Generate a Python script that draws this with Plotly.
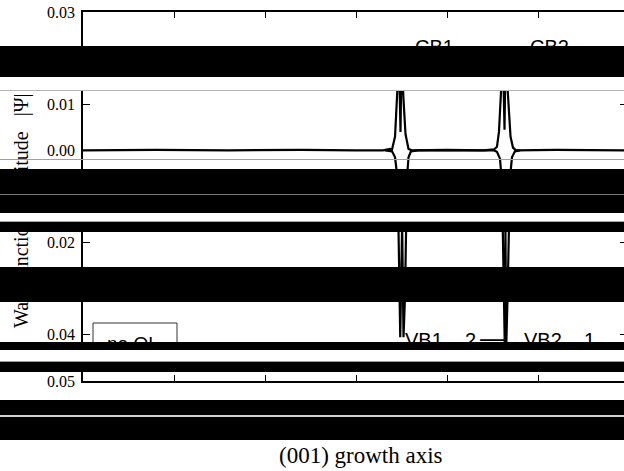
import plotly.graph_objects as go

# --- data -------------------------------------------------------------
# conduction-band wavefunctions (baseline plus the two peaks), position in nm
cb_x = [0, 8, 16, 24, 30, 32.97, 33.74, 33.96, 34.29, 34.51, 34.73, 34.89,
        35.00, 35.22, 35.44, 35.77, 36.15, 40, 44, 45.16, 45.49, 45.71, 45.93,
        46.15, 46.32, 46.43, 46.70, 46.98, 47.25, 47.58, 52, 56, 59.45]
cb_y = [0, 0.0001, 0, 0.0001, 0, 0, 0.0003, 0.0002, 0.0030, 0.0110, 0.0205,
        0.0040, 0.0205, 0.0110, 0.0035, 0.0003, 0, 0.0001, 0, 0.0002, 0.0008,
        0.0040, 0.0120, 0.0210, 0.0045, 0.0210, 0.0120, 0.0030, 0.0006, 0,
        0.0001, 0, 0]

# valence-band wavefunctions (drawn downwards)
vb_x = [33.19, 33.96, 34.29, 34.56, 34.67, 34.76, 34.86, 35.07, 35.22, 35.38,
        35.47, 35.60, 35.77, 36.04, 36.81, 45.16, 45.49, 45.82, 46.04, 46.15,
        46.24, 46.35, 46.42, 46.51, 46.65, 46.76, 46.92, 47.14, 47.47, 48.02]
vb_y = [0, -0.0002, -0.0015, -0.0060, -0.0170, -0.0330, -0.0405, -0.0160,
        -0.0405, -0.0320, -0.0180, -0.0060, -0.0015, -0.0002, 0, 0, -0.0003,
        -0.0018, -0.0070, -0.0180, -0.0330, -0.0425, -0.0165, -0.0425, -0.0320,
        -0.0180, -0.0060, -0.0015, -0.0002, 0]

y_tick_vals = [-0.05, -0.04, -0.03, -0.02, -0.01, 0.0, 0.01, 0.02, 0.03]
y_tick_text = ["0.05", "0.04", "0.03", "0.02", "0.01", "0.00", "0.01", "0.02", "0.03"]
x_tick_vals = [10, 20, 30, 40, 50]

cb_labels = ["CB1", "CB2"]
cb_label_x = [38.63, 51.26]
vb_labels = ["VB1&nbsp;&nbsp;&nbsp;&nbsp;2", "VB2&nbsp;&nbsp;&nbsp;&nbsp;1"]
vb_label_x = [35.16, 48.20]
label_y_top = 0.02233
label_y_bottom = -0.04119
legend_text = "no QL"

x_title = "(001) growth axis"
y_title = "Wavefunction amplitude&nbsp;&nbsp;&nbsp;|Ψ|"

# --- figure geometry ---------------------------------------------------
W, H = 624, 471
ML, MR, MT, MB = 83, 0, 12, 90
PW, PH = W - ML - MR, H - MT - MB


def px_x(p):
    return (p - ML) / PW


def px_y(p):
    return (H - MB - p) / PH


SERIF = "Liberation Serif"
SANS = "Liberation Sans"

fig = go.Figure()
fig.add_trace(go.Scatter(x=cb_x, y=cb_y, mode="lines",
                         line=dict(color="black", width=2.2), showlegend=False))
fig.add_trace(go.Scatter(x=vb_x, y=vb_y, mode="lines", yaxis="y2",
                         line=dict(color="black", width=2.2), showlegend=False))

annotations = []
annotations.append(dict(text=y_title, textangle=-90, xref="paper", yref="paper",
                        x=px_x(22), y=px_y(211), xanchor="center", yanchor="middle",
                        showarrow=False, font=dict(family=SERIF, size=20, color="black")))
annotations.append(dict(text=x_title, xref="paper", yref="paper",
                        x=px_x(361), y=px_y(456), xanchor="center", yanchor="middle",
                        showarrow=False, font=dict(family=SERIF, size=23, color="black")))
for t, xv in zip(cb_labels, cb_label_x):
    annotations.append(dict(text=t, x=xv, y=label_y_top, xref="x", yref="y",
                            xanchor="center", yanchor="middle", showarrow=False,
                            font=dict(family=SANS, size=20, color="black")))
for t, xv in zip(vb_labels, vb_label_x):
    annotations.append(dict(text=t, x=xv, y=label_y_bottom, xref="x", yref="y",
                            xanchor="left", yanchor="middle", showarrow=False,
                            font=dict(family=SANS, size=20, color="black")))
annotations.append(dict(text="—", xref="paper", yref="paper", x=px_x(478), y=px_y(337.5),
                        xanchor="left", yanchor="middle", showarrow=False,
                        font=dict(family=SANS, size=25, color="black")))
annotations.append(dict(text=legend_text, xref="paper", yref="paper",
                        x=px_x(105), y=px_y(343.7), xanchor="left", yanchor="middle",
                        showarrow=False, font=dict(family=SANS, size=19, color="black")))

# horizontal strips across the page (top, bottom, colour) in pixel rows
strips = [
    (46, 77, "black"), (77, 90, "white"), (90, 91, "#b4b4b4"),
    (159, 160, "#a0a0a0"),
    (169, 194, "black"), (194, 195, "#7a7a7a"), (195, 213, "black"),
    (213, 221, "white"), (221, 222, "#a8a8a8"), (222, 232, "black"),
    (267, 302, "black"),
    (342, 350, "black"), (350, 361, "white"), (361, 362, "#9a9a9a"), (362, 372, "black"),
    (400, 415, "black"), (415, 417, "#d0d0d0"), (417, 440, "black"),
]
for top, bot, col in strips:
    annotations.append(dict(text=" ", xref="paper", yref="paper",
                            x=px_x(0), y=px_y(top), xanchor="left", yanchor="top",
                            width=W + 4, height=bot - top, bgcolor=col,
                            borderpad=0, borderwidth=0, showarrow=False,
                            font=dict(size=1, color=col)))

fig.update_layout(
    width=W, height=H,
    margin=dict(l=ML, r=MR, t=MT, b=MB, pad=0),
    paper_bgcolor="white", plot_bgcolor="white",
    showlegend=False,
    xaxis=dict(range=[0, 59.45], showgrid=False, zeroline=False,
               showline=True, linecolor="black", linewidth=1.5, mirror="ticks",
               ticks="inside", ticklen=6, tickwidth=1.2, tickcolor="black",
               tickvals=x_tick_vals, showticklabels=False),
    yaxis=dict(range=[-0.05, 0.03], showgrid=False, zeroline=False,
               showline=True, linecolor="black", linewidth=1.5, mirror=False,
               ticks="inside", ticklen=7, tickwidth=1.2, tickcolor="black",
               tickvals=y_tick_vals, ticktext=y_tick_text,
               tickfont=dict(family=SERIF, size=16, color="black"),
               ticklabelstandoff=3),
    yaxis2=dict(range=[-0.05, 0.03], overlaying="y", side="right",
                showgrid=False, zeroline=False, showline=False,
                ticks="inside", ticklen=4, tickwidth=1.2, tickcolor="black",
                tickvals=y_tick_vals, showticklabels=False),
    shapes=[dict(type="rect", xref="paper", yref="paper",
                 x0=px_x(93), x1=px_x(177), y0=px_y(349), y1=px_y(323),
                 line=dict(color="#333333", width=1), layer="above")],
    annotations=annotations,
)

fig.write_html("out.html")
